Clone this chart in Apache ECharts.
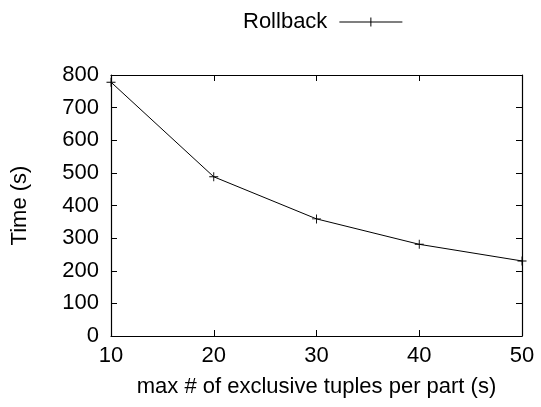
<!DOCTYPE html>
<html>
<head>
<meta charset="utf-8">
<script src="https://cdn.jsdelivr.net/npm/echarts@6/dist/echarts.min.js"></script>
<style>
  html, body { margin: 0; padding: 0; background: #fff; }
  #chart { width: 541px; height: 407px; }
</style>
</head>
<body>
<div id="chart"></div>
<script>
// Rollback time against the exclusive-tuple limit per part
const xValues = [10, 20, 30, 40, 50];
const rollbackTimes = [778, 488, 359, 281, 230];
const seriesName = 'Rollback';
const xTitle = 'max # of exclusive tuples per part (s)';
const yTitle = 'Time (s)';

const font = 'Liberation Sans, Arial, sans-serif';
const fs = 22;
const plus = 'path://M0,4.5h10v1h-10zM4.5,0h1v10h-1z';

const chart = echarts.init(document.getElementById('chart'));
const tickStyle = { show: true, inside: true, length: 6, lineStyle: { color: '#000', width: 1 } };
const lineStyle = { show: true, onZero: false, lineStyle: { color: '#000', width: 1.2 } };

chart.setOption({
  animation: false,
  backgroundColor: '#fff',
  textStyle: { fontFamily: font },
  legend: {
    data: [seriesName],
    top: 6,
    left: 238,
    align: 'right',
    itemWidth: 63,
    itemHeight: 9,
    itemGap: 10,
    icon: 'path://M0,4h63v1h-63zM31,0h1v9h-1z',
    itemStyle: { color: '#000' },
    textStyle: { fontFamily: font, fontSize: fs, color: '#000', padding: [0, 7, 0, 0] }
  },
  grid: { left: 111, right: 19, top: 75, bottom: 71 },
  xAxis: [
    {
      type: 'value', min: 10, max: 50, interval: 10,
      name: xTitle, nameLocation: 'middle', nameGap: 40,
      nameTextStyle: { fontFamily: font, fontSize: fs, color: '#000' },
      axisLine: lineStyle, axisTick: tickStyle,
      axisLabel: { fontFamily: font, fontSize: fs, color: '#000', margin: 9 },
      splitLine: { show: false }
    },
    {
      type: 'value', min: 10, max: 50, interval: 10, position: 'top',
      axisLine: lineStyle, axisTick: tickStyle,
      axisLabel: { show: false }, splitLine: { show: false }
    }
  ],
  yAxis: [
    {
      type: 'value', min: 0, max: 800, interval: 100,
      name: yTitle, nameLocation: 'middle', nameGap: 80, nameRotate: 90,
      nameTextStyle: { fontFamily: font, fontSize: fs, color: '#000' },
      axisLine: lineStyle, axisTick: tickStyle,
      axisLabel: { fontFamily: font, fontSize: fs, color: '#000', margin: 12 },
      splitLine: { show: false }
    },
    {
      type: 'value', min: 0, max: 800, interval: 100, position: 'right',
      axisLine: lineStyle, axisTick: tickStyle,
      axisLabel: { show: false }, splitLine: { show: false }
    }
  ],
  series: [{
    name: seriesName,
    type: 'line',
    data: xValues.map((x, i) => [x, rollbackTimes[i]]),
    symbol: plus,
    symbolSize: 9,
    showAllSymbol: true,
    clip: false,
    itemStyle: { color: '#000' },
    lineStyle: { color: '#000', width: 1 }
  }]
});
</script>
</body>
</html>
